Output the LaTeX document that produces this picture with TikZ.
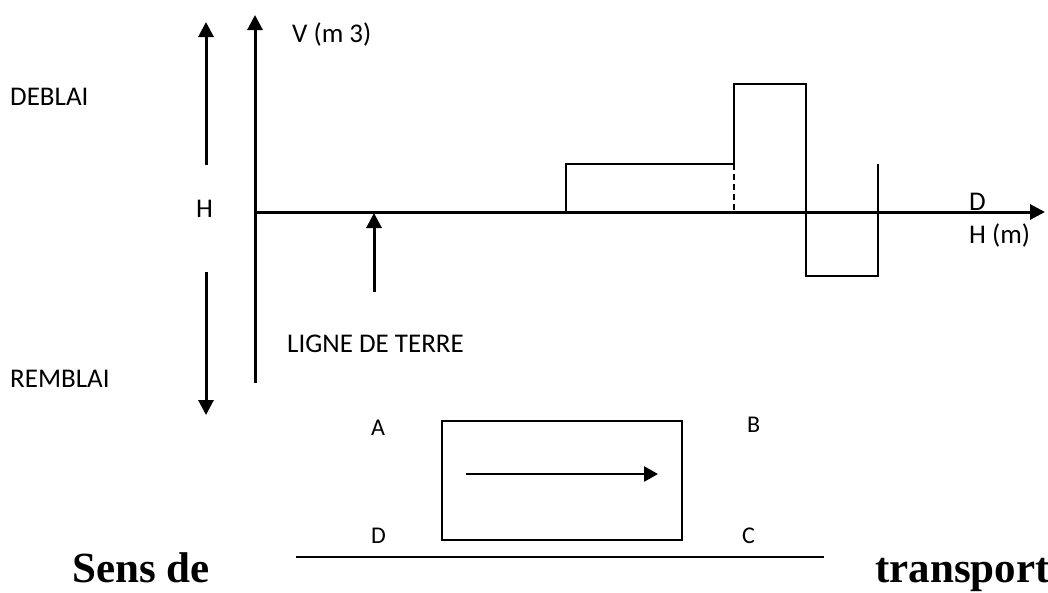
\documentclass[tikz,border=0pt]{standalone}
\usepackage{fontspec}
\setmainfont{Carlito}
\newfontfamily\serifb{Liberation Serif}
\usetikzlibrary{arrows.meta}
\begin{document}
\begin{tikzpicture}[x=1pt,y=-1pt,
 lbl/.style={anchor=base west,inner sep=0pt,font=\fontsize{27}{31}\selectfont},
 smalllbl/.style={anchor=base west,inner sep=0pt,font=\fontsize{24}{28}\selectfont},
 biglbl/.style={anchor=base west,inner sep=0pt,font=\serifb\bfseries\fontsize{43}{50}\selectfont},
 axis/.style={line width=3pt,-{Triangle[width=15pt,length=15pt]}},
 chart/.style={line width=2pt},
 thinline/.style={line width=1.6pt},
 inarrow/.style={line width=2.6pt,-{Triangle[width=15pt,length=14pt]}}]
\useasboundingbox (0,0) rectangle (1048,592);

% coordinates
\coordinate (O) at (255,212);
\coordinate (Vtop) at (255,15);
\coordinate (Vbot) at (255,383);
\coordinate (Htip) at (1045,212);
\coordinate (upS) at (206,165);
\coordinate (upT) at (206,22);
\coordinate (dnS) at (206,272);
\coordinate (dnT) at (206,415);
\coordinate (ltS) at (374,292);
\coordinate (ltT) at (374,213);

% axes
\draw[line width=3pt] (Vbot) -- (O);
\draw[axis] (O) -- (Vtop);
\draw[axis] (O) -- (Htip);
\draw[axis] (upS) -- (upT);
\draw[axis] (dnS) -- (dnT);
\draw[axis] (ltS) -- (ltT);

% chart blocks
\coordinate (p1) at (566,212);
\coordinate (p2) at (566,164);
\coordinate (p3) at (734,164);
\coordinate (p4) at (734,84);
\coordinate (p5) at (806,84);
\coordinate (p6) at (806,276);
\coordinate (p7) at (878,276);
\coordinate (p8) at (878,164);
\coordinate (p3b) at (734,212);
\draw[chart,line join=miter] (p1) -- (p2) -- (p3) -- (p4) -- (p5) -- (p6) -- (p7) -- (p8);
\draw[chart,dash pattern=on 6pt off 4pt] (p3) -- (p3b);

% labels
\node[lbl] (vlab) at (292,42) {V (m 3)};
\node[lbl] (deblai) at (10,105) {DEBLAI};
\node[lbl] (hlab) at (196,217) {H};
\node[lbl] (ligne) at (287,352) {LIGNE DE TERRE};
\node[lbl] (remblai) at (10,387) {REMBLAI};
\node[lbl] (dlab) at (969,210) {D};
\node[lbl] (hm) at (969,243) {H (m)};

% box
\coordinate (bA) at (442,421);
\coordinate (bC) at (682,540);
\draw[thinline] (bA) rectangle (bC);
\coordinate (arS) at (466,474);
\coordinate (arT) at (658,474);
\draw[inarrow] (arS) -- (arT);
\node[smalllbl] (la) at (371,435) {A};
\node[smalllbl] (lb) at (747,432) {B};
\node[smalllbl] (ld) at (371,543) {D};
\node[smalllbl] (lc) at (742,543) {C};

% bottom line and text
\coordinate (bl1) at (296,557);
\coordinate (bl2) at (824,557);
\draw[line width=2.6pt] (bl1) -- (bl2);
\node[biglbl] (sens) at (72,582) {Sens de};
\node[biglbl] (transport) at (875,582) {transport};
\end{tikzpicture}
\end{document}
